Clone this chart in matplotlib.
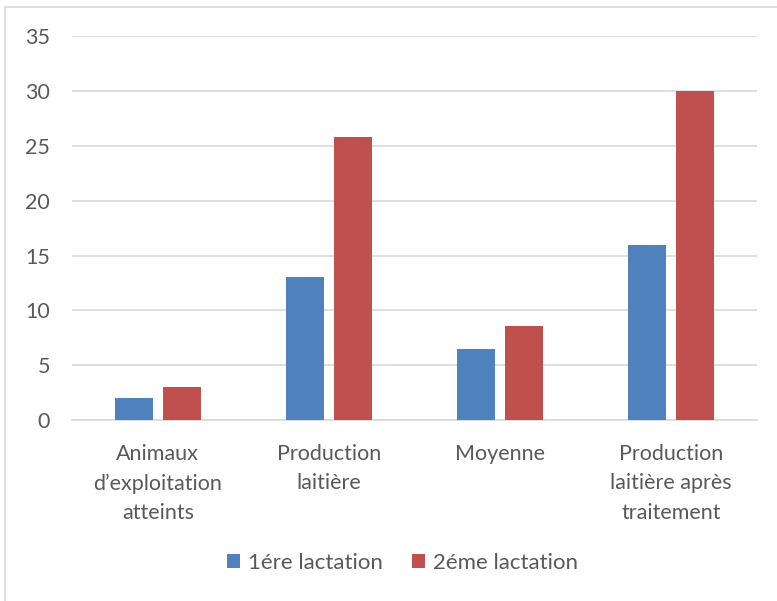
import matplotlib.pyplot as plt
import numpy as np
from matplotlib.patches import Rectangle

categories = ["Animaux\nd’exploitation\natteints", "Production\nlaitière", "Moyenne",
              "Production\nlaitière après\ntraitement"]
first_lactation = [2, 13, 6.5, 16]
second_lactation = [3, 25.8, 8.6, 30]
series_names = ["1ére lactation", "2éme lactation"]

plt.rcParams['font.family'] = ['Lato', 'DejaVu Sans']

fig = plt.figure(figsize=(7.77, 6.01), dpi=100)
ax = fig.add_axes([0.093, 0.301, 0.881, 0.639])

# light frame around the whole chart
fig.patches.append(Rectangle((0.007, -0.01), 1.02, 0.998, transform=fig.transFigure,
                             fill=False, edgecolor="#D9D9D9", linewidth=1.2))

x = np.arange(len(categories))
width = 0.22
gap = 0.06
ax.bar(x - (width + gap) / 2, first_lactation, width, color="#4F81BD", label=series_names[0], zorder=3)
ax.bar(x + (width + gap) / 2, second_lactation, width, color="#C0504D", label=series_names[1], zorder=3)

ax.set_xlim(-0.5, len(categories) - 0.5)
ax.set_ylim(0, 35)
ax.set_yticks(range(0, 36, 5))
ax.grid(axis="y", color="#D9D9D9", linewidth=1.2, zorder=0)
for side in ["top", "right", "left"]:
    ax.spines[side].set_visible(False)
ax.spines["bottom"].set_color("#D9D9D9")
ax.spines["bottom"].set_linewidth(1.2)
ax.tick_params(length=0, labelsize=15.5, colors="#595959")
ax.tick_params(axis="y", pad=16)
ax.tick_params(axis="x", pad=17)
ax.set_xticks(x)
ax.set_xticklabels(categories, linespacing=1.6)

fig.legend(loc="center", bbox_to_anchor=(0.518, 0.064), ncol=2, frameon=False,
           fontsize=16, labelcolor="#595959", handlelength=0.6, handleheight=0.6,
           handletextpad=0.35, columnspacing=1.3)

fig.savefig("out.png", dpi=100)
